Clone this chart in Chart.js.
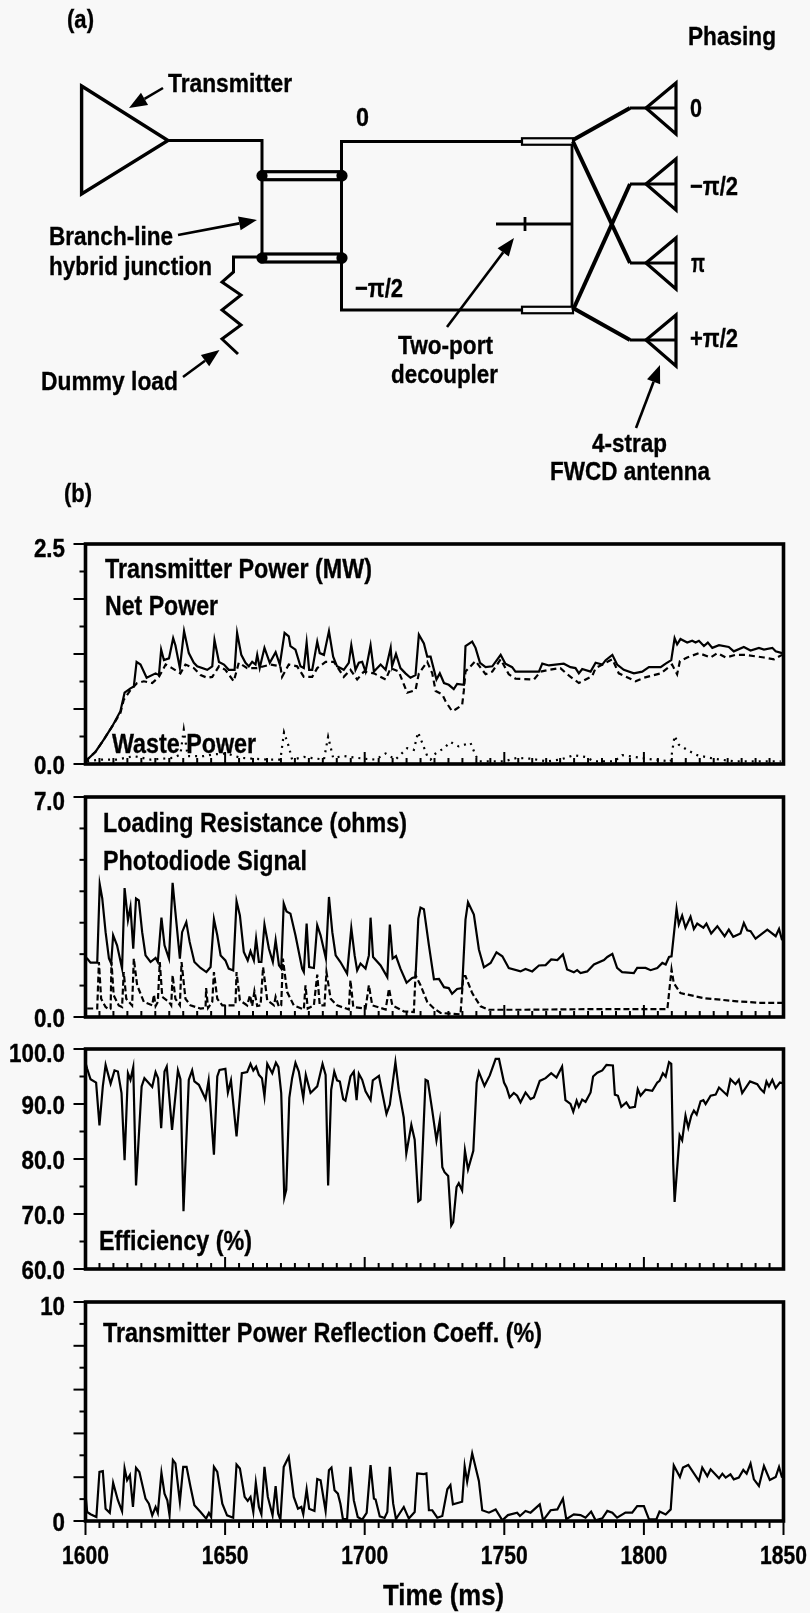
<!DOCTYPE html>
<html>
<head>
<meta charset="utf-8">
<title>FWCD antenna circuit and transmitter traces</title>
<script src="https://cdn.jsdelivr.net/npm/chart.js@4"></script>
<style>
  html, body { margin: 0; padding: 0; background: #f8f8f8; }
  #page { position: relative; width: 810px; height: 1613px; overflow: hidden; }
  canvas { position: absolute; left: 0; }
  svg { position: absolute; left: 0; top: 0; pointer-events: none; }
  svg text { font-family: "Liberation Sans", sans-serif; font-weight: bold; fill: #000; stroke: #000; stroke-width: 0.35; }
</style>
</head>
<body>
<div id="page">
  <canvas id="panelPower"></canvas>
  <canvas id="panelLoading"></canvas>
  <canvas id="panelEfficiency"></canvas>
  <canvas id="panelReflection"></canvas>
  <svg id="overlay" width="810" height="1613"></svg>
</div>
<script>
/* ================= DATA ================= */
const powerTimes = [1600,1600.6,1603.6,1606.6,1609.6,1612.5,1614,1616.1,1617.3,1618.3,1619.7,1621.9,1625.1,1626.3,1627.1,1628.1,1629.9,1631.4,1632.2,1633.8,1635.3,1637,1638.8,1640,1643.6,1645.4,1646.2,1647.8,1649.6,1651.3,1653.4,1654.3,1655.8,1657.3,1658.5,1659.7,1660.9,1661.5,1662.4,1664.1,1666,1668.1,1669.6,1671.3,1672.8,1673.4,1675.2,1677,1678.2,1679.2,1680.1,1681.2,1683,1683.9,1685.4,1687.2,1688.7,1690.1,1692.5,1694.3,1695.2,1696.7,1697.9,1699.1,1700.3,1702.1,1703.3,1705.7,1707.5,1709.3,1709.8,1711.2,1712.8,1714.6,1716.4,1718.2,1719.4,1721.2,1722.4,1723.6,1725.7,1726.9,1728.4,1730.1,1731.9,1733.1,1735.5,1736.1,1738.5,1739.7,1741.3,1743.3,1745.7,1748.7,1750.4,1752.8,1754,1762.4,1763.6,1766,1771.3,1773.7,1775.5,1776.7,1777.9,1780.9,1782.7,1785.1,1786.3,1788.7,1790.4,1792.8,1796.4,1799.4,1801.8,1806,1807.8,1809.8,1811,1811.9,1813.1,1815.5,1817.3,1818.5,1819.7,1821.5,1822.9,1824.5,1826.9,1830.4,1832.2,1835.8,1838.2,1841.2,1843,1846,1847.2,1849.5];
const powerValues = [0.02,0.05,0.14,0.28,0.43,0.60,0.81,0.86,0.88,1.16,1.13,0.98,1.03,1.01,1.30,1.18,1.20,1.43,1.35,1.09,1.51,1.26,1.15,1.11,1.07,1.11,1.41,1.16,1.13,1.07,1.07,1.49,1.24,1.15,1.11,1.16,1.13,1.24,1.09,1.32,1.15,1.27,1.13,1.49,1.45,1.34,1.30,1.11,1.09,1.38,1.07,1.07,1.39,1.26,1.24,1.51,1.22,1.11,1.07,1.15,1.35,1.07,1.15,1.16,1.05,1.35,1.05,1.13,1.07,1.32,1.11,1.25,1.09,1.03,0.98,1.01,1.47,1.37,1.22,1.22,0.96,1.03,0.92,0.90,0.85,0.91,0.90,1.34,1.39,1.32,1.15,1.10,1.11,1.24,1.14,1.10,1.05,1.05,1.14,1.12,1.14,1.10,1.09,1.03,1.08,1.05,1.15,1.13,1.18,1.24,1.13,1.07,1.03,1.05,1.10,1.10,1.14,1.18,1.43,1.36,1.42,1.38,1.40,1.38,1.40,1.34,1.38,1.32,1.35,1.33,1.28,1.33,1.29,1.32,1.30,1.32,1.28,1.26];

const netTimes = [1600,1600.6,1603.6,1606.6,1609.6,1612.5,1613.7,1616.1,1618.5,1620.9,1623.9,1626.3,1628.7,1631,1634,1635.8,1638.8,1641.2,1643.6,1645.4,1647.8,1650.1,1653.1,1654.9,1657.9,1661.5,1666.3,1669.8,1670.4,1672.8,1675.8,1678.2,1681.2,1683,1686,1689,1692.5,1694.9,1697.3,1699.7,1703.3,1707.5,1709.3,1712.2,1715.2,1718.2,1719.4,1722.4,1724.2,1725.4,1727.8,1729,1731.3,1732.5,1734.9,1735.5,1736.1,1739.7,1743.3,1745.7,1748.7,1751.6,1754,1760.6,1763,1766,1770.1,1772.5,1776.7,1781.5,1782.7,1788.7,1791,1797,1800,1806,1810.1,1811.9,1812.9,1815.5,1819.7,1823.9,1826.3,1829.3,1832.8,1836.4,1843,1846.6,1849.5];
const netValues = [0.02,0.05,0.14,0.28,0.43,0.58,0.73,0.84,0.92,0.94,0.92,0.99,1.13,1.09,1.03,1.13,1.09,1.01,0.98,0.99,1.11,1.07,0.94,1.15,1.09,1.09,1.13,1.11,0.99,1.13,1.11,0.99,0.99,1.09,1.16,1.16,0.99,1.07,0.96,1.05,1.03,0.96,1.09,1.05,0.81,0.84,1.03,1.16,1.03,0.83,0.79,0.71,0.60,0.62,0.67,0.83,1.05,1.17,1.02,1.05,1.19,1.02,0.97,0.96,1.05,1.07,1.09,1.02,0.92,1.00,1.09,1.19,1.03,0.94,0.98,1.03,1.13,1.02,1.17,1.21,1.26,1.21,1.26,1.21,1.24,1.24,1.21,1.19,1.24];

const wasteTimes = [1600.6,1605.4,1611.4,1617.3,1623.3,1631.6,1634,1635.2,1636.6,1642.4,1646,1650.7,1655.5,1665.1,1669.8,1671.1,1672.8,1674,1678.2,1685.4,1686.9,1688.7,1692.5,1699.7,1703.9,1707.5,1711,1715.2,1717.6,1719.1,1720.6,1722.4,1723.6,1725.4,1728.4,1730.7,1733.7,1737.9,1739.7,1740.9,1745.1,1749.9,1754.6,1759.4,1765.4,1770.1,1774.9,1779.1,1782.1,1789.3,1792.2,1798.8,1803.6,1809.6,1811,1812.5,1815.5,1819.1,1825.1,1832.2,1849];
const wasteValues = [0.03,0.05,0.05,0.09,0.05,0.07,0.11,0.39,0.09,0.09,0.11,0.12,0.07,0.05,0.05,0.36,0.20,0.05,0.08,0.05,0.31,0.07,0.09,0.06,0.05,0.12,0.05,0.18,0.16,0.36,0.24,0.09,0.05,0.12,0.18,0.25,0.20,0.24,0.10,0.03,0.03,0.03,0.07,0.06,0.03,0.05,0.10,0.08,0.03,0.03,0.10,0.07,0.05,0.03,0.32,0.22,0.16,0.10,0.06,0.03,0.03];

const loadingTimes = [1600,1600.6,1601.8,1604.2,1605.1,1606,1607.2,1608.4,1609.2,1609.9,1611.3,1613.1,1614,1615.2,1616.1,1617.1,1618.1,1619.1,1620.3,1621.5,1623.3,1625.1,1625.9,1627.2,1628.3,1629.9,1631.2,1632.2,1633.8,1634.6,1636.1,1637.3,1639,1641.2,1643.3,1644.8,1646,1647.2,1648.4,1650.1,1651.3,1652.9,1654.1,1655.3,1656.7,1658.1,1659.1,1660.3,1661.1,1662.1,1663,1664.1,1665.7,1667.1,1668.1,1669.3,1670.1,1671,1672,1673.4,1675.2,1677.6,1678.2,1679.2,1680.1,1681.8,1683,1684.2,1686.1,1687.2,1688.4,1689.6,1691.3,1693.7,1695.2,1696.4,1697.3,1698.5,1700.3,1701.5,1702.1,1703,1705.7,1708.1,1709,1710,1711.2,1712.8,1715,1717,1718.2,1719.2,1720,1721.2,1723,1724.8,1726.6,1728.4,1730.1,1731.3,1733.1,1734.9,1736.1,1737,1739.1,1740.9,1742.7,1745.1,1747.2,1749.3,1751.6,1755.8,1757.6,1760,1762.4,1764.8,1766.8,1769,1771,1772.5,1774.9,1776.1,1777.3,1779.7,1782.1,1785.7,1786.9,1788.7,1790.4,1792.2,1796.4,1797.6,1800.6,1802.4,1804.8,1806.6,1807.8,1809,1809.9,1811.7,1812.5,1813.7,1814.9,1816.7,1817.9,1819.1,1821.3,1822.4,1824.1,1826.3,1828.9,1830.4,1832,1834.6,1835.8,1837,1838.2,1840,1844.2,1847.2,1848.4,1849.5];
const loadingValues = [1.9,1.86,1.73,1.73,4.22,3.77,2.70,1.86,1.70,2.60,2.28,1.54,4.10,3.08,3.50,2.17,3.77,3.71,2.70,1.96,1.75,1.88,1.75,3.16,2.28,1.86,4.27,3.34,1.86,2.70,3.02,2.39,1.75,1.56,1.43,1.59,3.11,2.60,1.96,1.80,1.54,1.48,3.68,3.23,2.07,1.80,2.09,1.80,2.49,1.75,1.75,2.94,2.17,1.75,2.44,1.64,1.54,3.61,3.36,3.29,2.60,1.54,1.43,2.97,1.59,1.56,2.92,2.60,1.86,3.82,2.70,1.96,1.75,1.38,2.83,1.96,1.48,1.70,1.54,1.96,3.16,1.91,1.64,1.27,2.94,1.86,1.94,1.54,1.09,1.24,1.27,3.13,3.48,3.43,2.28,1.20,1.21,0.95,0.92,0.74,0.89,0.92,3.10,3.65,3.26,2.15,1.58,1.72,2.06,1.93,1.56,1.45,1.53,1.45,1.64,1.65,1.83,1.81,1.99,1.51,1.42,1.49,1.40,1.45,1.67,1.81,1.91,2.01,1.56,1.43,1.40,1.56,1.56,1.49,1.56,1.72,1.67,1.91,1.93,3.44,2.94,3.23,2.84,3.19,2.80,2.97,2.84,2.97,2.66,2.89,2.57,2.78,2.55,2.66,2.99,2.76,2.73,2.49,2.78,2.57,2.80,2.44];

const photoTimes = [1600.6,1604.2,1604.8,1605.6,1607.2,1608.4,1609,1609.3,1610.1,1611.9,1613.1,1613.7,1614.6,1616.7,1617.3,1618.5,1620.9,1623.9,1624.5,1625.1,1625.9,1626.6,1627.5,1629.9,1630.7,1631.2,1632.2,1633.8,1634.4,1635.8,1637.6,1641.2,1643,1643.2,1643.9,1645.4,1646,1647.2,1649,1653.7,1654.1,1655.3,1657.9,1658.9,1659.7,1660.5,1661.5,1662.7,1663.6,1665.1,1667.5,1668.1,1669.3,1670.1,1670.7,1672.2,1674.6,1678.2,1678.8,1679.6,1681.8,1683,1683.9,1685.6,1686.3,1687.8,1690.1,1694.3,1694.9,1695.9,1700.3,1701.5,1702.7,1707.5,1708.7,1709.9,1714,1717.6,1718.2,1720,1722.4,1724.8,1727.2,1734.3,1735.3,1736.1,1738.5,1741.5,1744.5,1755.8,1779.7,1808.4,1809.9,1810.7,1813.1,1821.5,1833.4,1841.8,1849.5];
const photoValues = [0.27,0.27,1.75,0.58,0.32,0.24,0.27,1.75,0.69,0.37,0.32,1.43,0.58,0.37,1.86,1.01,0.48,0.37,0.71,0.35,0.48,1.75,0.64,0.48,0.37,1.33,0.58,0.37,1.75,0.58,0.37,0.27,0.29,0.92,0.29,0.48,1.43,0.58,0.37,0.37,1.43,0.53,0.37,0.69,0.35,0.82,0.35,0.37,1.59,0.53,0.37,0.64,0.32,0.37,1.86,0.80,0.37,0.24,1.01,0.27,0.37,1.35,0.37,0.37,1.43,0.58,0.37,0.24,1.17,0.32,0.27,1.01,0.37,0.24,0.90,0.37,0.18,0.16,1.33,1.01,0.48,0.27,0.13,0.08,1.30,1.30,0.76,0.34,0.23,0.23,0.25,0.25,1.51,1.08,0.76,0.60,0.50,0.45,0.45];

const efficiencyTimes = [1600,1600.6,1601.8,1603.8,1605,1606.2,1607.2,1609,1610.4,1611.6,1612.9,1614,1615.2,1616.1,1617.1,1618.1,1620.1,1621.1,1623.9,1625.1,1626,1627.1,1628.3,1629.1,1631,1633.1,1634,1635.1,1637,1638.2,1639,1640.6,1643,1644.1,1646,1647.2,1648,1650.1,1651,1652.1,1654.1,1656,1657.9,1659.1,1660.1,1661.1,1662.1,1663.2,1664.1,1665.1,1666.9,1668.2,1669.1,1670.1,1671.2,1671.9,1673,1674,1675.2,1676.4,1678,1678.9,1680.6,1683,1684.9,1686,1686.9,1688,1689.1,1690.1,1691.1,1692.3,1693.1,1694.9,1696.1,1697.1,1697.9,1699.1,1700.3,1702.1,1702.9,1705.1,1707.8,1709,1711,1712.2,1714,1714.9,1716.7,1717.9,1719.2,1720,1721.8,1722.6,1724.2,1725.7,1726.9,1727.8,1728.6,1729.9,1731,1731.7,1732.9,1733.7,1734.9,1735.9,1737,1738.9,1740.1,1740.9,1742.9,1744.8,1746.9,1748.1,1749.9,1750.8,1751.9,1753.4,1754.6,1755.8,1757.6,1759.4,1760.6,1762.7,1764.8,1766.8,1768.7,1770.7,1771.9,1773.7,1774.7,1775.9,1776.7,1777.9,1779.1,1780.9,1781.8,1783.3,1785.1,1786.6,1788.9,1789.6,1790.7,1791.9,1793.7,1794.9,1796.8,1797.8,1798.8,1800.6,1803,1804.8,1805.6,1806.8,1807.8,1809,1809.8,1810.5,1811,1812.8,1813.7,1814.9,1815.9,1817,1817.9,1818.9,1820.3,1821.3,1822.1,1823.9,1825.7,1826.9,1829.8,1831,1832.8,1834,1835.2,1838,1840.6,1841.8,1843,1843.9,1844.8,1846,1847.2,1848.7,1849.5];
const efficiencyValues = [97.5,96.4,94.5,93.9,86.1,93.2,97.1,93.7,96.1,95.9,92,79.8,95.6,94.4,96.7,75.2,93.2,94.7,93.1,95.8,94.7,85.6,95.9,96.8,85.3,96.1,94.5,70.5,94.4,96.1,94.1,93.5,90.9,94.3,80.8,95,96.2,96.4,92.1,94.3,84.1,95.6,95.8,97.3,96.1,96.8,95.3,94.7,91.4,97.3,95.6,97.5,96.7,92,73,74.4,91.1,94.7,97.5,95.9,91.1,95.3,92,93.2,97.3,95.3,75.2,92.6,95.9,94.3,94.1,90.9,90.6,95,95.9,90.7,95.5,94.4,92.3,90.7,94.3,95.1,88.2,89.9,97.6,92.6,87.5,81,86.2,83.5,72.3,72.6,94.4,94.2,88.8,83.4,87,78.5,77.6,76.9,67.9,68.5,74.9,75.6,74.3,81.5,78.1,81.5,93.9,95.8,93.3,95.2,98.2,98.2,93.9,93,91.2,92,91.5,90.3,92.1,90.9,91.2,94.2,94.7,95.6,94.8,96.8,90.7,90,88.6,90.6,89.5,90.8,90.4,92.1,95,95.7,96.1,97.1,97,91.7,91.5,89.5,90.3,89.3,89.5,92.7,91.5,92.6,92.4,93.9,94.2,95.6,95,97.6,97.3,79.1,72.2,84.3,83.4,87.9,85.7,87.9,88.8,88.1,90.5,90.7,90,91.5,91.7,93,91.6,94.5,93.6,94.4,92,94.1,93.6,92.7,92.1,94.1,93.2,94.4,92.9,93.9,93.8];

const reflectionTimes = [1600,1600.6,1601.8,1603.9,1605,1606.2,1607.2,1608.7,1609.9,1611.6,1613.1,1614,1614.9,1615.9,1617,1618.1,1619.3,1621.5,1622.7,1623.9,1625.1,1625.9,1627.2,1628.3,1629.3,1630.1,1631.3,1632.2,1633.8,1635,1636.2,1637.6,1639,1641.2,1643.2,1644.2,1645,1646,1647.2,1649,1650.7,1652.9,1654.1,1655.3,1657,1658.1,1659.1,1660.1,1661,1662.1,1663,1664.1,1665.3,1667,1668.1,1669,1669.8,1671,1672.8,1674.6,1676.1,1677.3,1678,1679.2,1680.1,1682,1683,1684.2,1686,1687.2,1688.1,1689.2,1690.4,1691.3,1692.2,1693.7,1694.9,1696.1,1697.5,1699.1,1700.7,1702.1,1703.3,1703.9,1705.4,1707.1,1708.1,1709,1710.2,1711.2,1714,1715.8,1717.9,1718.8,1721.2,1722.1,1723,1724.2,1726,1727.8,1729.6,1730.7,1731.6,1734.9,1735.8,1736.7,1738.5,1740.9,1742.1,1744.5,1746.9,1749.3,1751.3,1754.6,1755.6,1757.6,1759.4,1762.7,1763.9,1766.6,1769,1771,1772.2,1774.9,1777.3,1779.1,1781.1,1782.7,1785.1,1786.9,1788.7,1790.4,1793.4,1795.8,1797.6,1800,1801.8,1804.5,1805.6,1807.8,1809.6,1810.7,1812.9,1814,1815.9,1819.7,1820.9,1822.7,1823.9,1826.9,1828.1,1829.3,1831,1832.2,1834,1835.6,1836.8,1838.2,1839.4,1841.2,1843,1845.1,1847.2,1848.4,1849.5];
const reflectionValues = [1.2,0.41,0.31,0.18,2.24,2.28,0.56,0.37,1.74,0.95,0.44,2.40,1.86,2.09,0.64,2.43,2.24,1.02,0.79,0.26,0.64,0.37,2.20,1.25,0.95,0.26,2.78,2.63,0.87,2.47,2.47,1.56,0.72,0.41,0.11,0.37,0.18,2.47,2.24,0.79,0.26,0.15,2.58,2.40,1.10,0.92,1.10,0.41,1.74,0.64,0.31,2.47,1.10,0.26,1.59,0.34,0.06,2.47,2.93,1.10,0.56,0.64,0.31,1.44,0.56,0.46,1.92,1.86,0.46,2.32,2.44,1.40,1.25,0.79,0.09,0.09,2.47,0.95,0.18,0.06,0.37,2.55,1.02,0.98,0.21,0.14,0.41,2.47,0.79,0.09,0.64,0.11,0.41,2.17,2.14,2.17,0.49,0.49,0.15,0.23,1.45,1.64,0.76,0.88,2.51,1.80,3.09,1.83,0.49,0.38,0.53,0.03,0.27,0.38,0.23,0.46,0.38,0.76,0.03,0.49,0.53,1.02,0.08,0.30,0.27,0.15,0.43,0.03,0.12,0.46,0.38,0.15,0.38,0.38,0.68,0.68,0.08,0.08,0.43,0.30,0.53,2.54,2.01,2.44,2.56,1.83,2.44,2.05,2.36,1.95,2.16,1.98,2.13,1.90,1.98,2.33,2.16,2.62,1.90,1.60,2.51,1.87,2.01,2.47,1.98];

/* ================= HELPERS ================= */
const pairs = (times, values) => times.map((t, i) => ({ x: t, y: values[i] }));
const isMultiple = (v, step) => Math.abs(v / step - Math.round(v / step)) < 1e-6;

const LABEL_FONT = "bold 26px 'Liberation Sans', sans-serif";
const LEFT_EDGE = 85.5;
const RIGHT_GAP = 26.5;

/* squeezed bold text, the reference uses a condensed face */
function drawLabel(ctx, text, x, y, squeeze, align) {
  ctx.save();
  ctx.translate(x, y);
  ctx.scale(squeeze, 1);
  ctx.font = LABEL_FONT;
  ctx.fillStyle = "#000";
  ctx.textAlign = align;
  ctx.textBaseline = "alphabetic";
  ctx.fillText(text, 0, 0);
  ctx.strokeStyle = "#000";
  ctx.lineWidth = 0.4;
  ctx.strokeText(text, 0, 0);
  ctx.restore();
}

const framePlugin = {
  id: "frame",
  afterDatasetsDraw(chart, args, opts) {
    const { ctx, chartArea: a, scales } = chart;
    ctx.save();
    ctx.strokeStyle = "#000";
    ctx.lineCap = "butt";

    ctx.lineWidth = 2;
    scales.x.ticks.forEach(t => {
      const major = isMultiple(t.value, 50);
      const px = scales.x.getPixelForValue(t.value);
      ctx.beginPath();
      ctx.moveTo(px, a.bottom);
      if (opts.ticksOutside) ctx.lineTo(px, a.bottom + (major ? 14 : 7));
      else ctx.lineTo(px, a.bottom - (major ? 12 : 6));
      ctx.stroke();
      if (opts.ticksOutside && t.label) drawLabel(ctx, t.label, px, a.bottom + 43, 0.81, "center");
    });
    scales.y.ticks.forEach(t => {
      const major = opts.longTicks(t.value);
      const py = scales.y.getPixelForValue(t.value);
      ctx.beginPath();
      ctx.moveTo(a.left, py);
      ctx.lineTo(a.left - (major ? 12 : 6), py);
      ctx.stroke();
      if (t.label) drawLabel(ctx, t.label, a.left - 20.5, py + 9.5 + (t.value === scales.y.max ? 3 : 0), 0.86, "right");
    });

    ctx.lineWidth = 3.6;
    ctx.strokeRect(a.left, a.top, a.right - a.left, a.bottom - a.top);
    ctx.restore();
  }
};

function makePanel(id, top, bottom, cfg) {
  const below = cfg.ticksOutside ? 72 : 20;
  const canvas = document.getElementById(id);
  canvas.width = 810;
  canvas.height = bottom - top + 20 + below;
  canvas.style.top = (top - 20) + "px";

  return new Chart(canvas, {
    type: "line",
    data: { datasets: cfg.datasets },
    options: {
      responsive: false,
      animation: false,
      layout: { padding: { top: 20, right: RIGHT_GAP, bottom: below, left: 0 } },
      elements: { point: { radius: 0 }, line: { tension: 0, borderColor: "#000", borderWidth: 2.2 } },
      plugins: { legend: { display: false }, tooltip: { enabled: false }, frame: cfg },
      scales: {
        x: {
          type: "linear",
          min: 1600,
          max: 1850,
          grid: { display: false, drawTicks: false },
          border: { display: false },
          ticks: {
            stepSize: 5,
            autoSkip: false,
            maxRotation: 0,
            display: false,
            callback: v => isMultiple(v, 50) ? String(v) : ""
          },
          afterFit: s => { s.height = 0; s.paddingLeft = 0; s.paddingRight = 0; }
        },
        y: {
          min: cfg.yMin,
          max: cfg.yMax,
          grid: { display: false, drawTicks: false },
          border: { display: false },
          ticks: {
            stepSize: cfg.yStep,
            autoSkip: false,
            display: false,
            callback: v => cfg.yLabels(v)
          },
          afterFit: s => { s.width = LEFT_EDGE; s.paddingTop = 0; s.paddingBottom = 0; }
        }
      }
    },
    plugins: [framePlugin]
  });
}

/* ================= PANELS ================= */
makePanel("panelPower", 544, 764, {
  yMin: 0, yMax: 2.5, yStep: 0.3125,
  longTicks: v => isMultiple(v, 0.625),
  yLabels: v => (v === 0 || v === 2.5) ? v.toFixed(1) : "",
  datasets: [
    { data: pairs(powerTimes, powerValues) },
    { data: pairs(netTimes, netValues), borderDash: [6, 4] },
    { data: pairs(wasteTimes, wasteValues), borderDash: [2, 5] }
  ]
});

makePanel("panelLoading", 797, 1017, {
  yMin: 0, yMax: 7, yStep: 1,
  longTicks: v => v === 0 || v === 7,
  yLabels: v => (v === 0 || v === 7) ? v.toFixed(1) : "",
  datasets: [
    { data: pairs(loadingTimes, loadingValues) },
    { data: pairs(photoTimes, photoValues), borderDash: [6, 3] }
  ]
});

makePanel("panelEfficiency", 1049, 1269, {
  yMin: 60, yMax: 100, yStep: 5,
  longTicks: v => isMultiple(v, 10),
  yLabels: v => isMultiple(v, 10) ? v.toFixed(1) : "",
  datasets: [{ data: pairs(efficiencyTimes, efficiencyValues) }]
});

makePanel("panelReflection", 1302, 1521, {
  yMin: 0, yMax: 10, yStep: 1, ticksOutside: true,
  longTicks: v => isMultiple(v, 2),
  yLabels: v => (v === 0 || v === 10) ? String(v) : "",
  datasets: [{ data: pairs(reflectionTimes, reflectionValues) }]
});

/* ================= SCHEMATIC AND LABELS ================= */
const svg = document.getElementById("overlay");
const NS = "http://www.w3.org/2000/svg";

function add(tag, attrs, text) {
  const el = document.createElementNS(NS, tag);
  Object.keys(attrs).forEach(k => el.setAttribute(k, attrs[k]));
  if (text) el.textContent = text;
  svg.appendChild(el);
  return el;
}

function wire(points, width) {
  add("polyline", { points: points, fill: "none", stroke: "#000", "stroke-width": width || 3, "stroke-linejoin": "miter" });
}

function arrow(x1, y1, x2, y2) {
  const ang = Math.atan2(y2 - y1, x2 - x1);
  const len = 18, half = 7;
  const bx = x2 - len * Math.cos(ang), by = y2 - len * Math.sin(ang);
  wire(`${x1},${y1} ${bx},${by}`, 2.6);
  const lx = bx + half * Math.sin(ang), ly = by - half * Math.cos(ang);
  const rx = bx - half * Math.sin(ang), ry = by + half * Math.cos(ang);
  add("polygon", { points: `${x2},${y2} ${lx},${ly} ${rx},${ry}`, fill: "#000" });
}

function antenna(y) {
  wire(`630,${y} 676,${y}`, 3);
  add("polygon", { points: `646,${y} 676,${y - 25} 676,${y + 26}`, fill: "none", stroke: "#000", "stroke-width": 3.2 });
}

function strip(x1, x2, y, height, weight) {
  add("rect", { x: x1, y: y - height / 2, width: x2 - x1, height: height, fill: "#f8f8f8", stroke: "#000", "stroke-width": weight });
}

/* transmitter and lines */
add("polygon", { points: "81.6,86 168,140.5 81.6,194", fill: "none", stroke: "#000", "stroke-width": 3.4 });
wire("168,140.5 262,140.5 262,258");
wire("522,141.5 341.5,141.5 341.5,310 522,310");
wire("572,141 572,310", 2.8);
wire("496,224 572,224", 2.8);
wire("525,217 525,231", 2.8);

/* hybrid junction */
strip(262, 342, 175.7, 8, 3.2);
strip(262, 342, 258, 8, 3.2);
[[262, 175.7], [342, 175.7], [262, 258], [342, 258]].forEach(p => add("circle", { cx: p[0], cy: p[1], r: 5.6, fill: "#000" }));

/* dummy load */
wire("258,257 233.5,257 233.5,272 222,282 241,295 222,310 241,325 222,339 238,354", 3);

/* outputs to antenna */
strip(522, 573, 141.5, 6.5, 2.2);
strip(522, 573, 310, 6.5, 2.2);
wire("573,140 630,108", 4);
wire("573,141.5 630,263", 4);
wire("573,310 630,184", 4);
wire("573,308 630,340", 4);
antenna(108);
antenna(184);
antenna(263);
antenna(340);

/* arrows */
arrow(163, 88, 129, 108);
arrow(178, 235, 257, 220);
arrow(447, 327, 514, 238);
arrow(183, 377, 219.5, 350);
arrow(636, 428, 660, 365);

/* x, baseline, width, text, size */
const labels = [
  [67, 28, 27, "(a)", 26],
  [688, 45, 88, "Phasing", 26],
  [168, 92, 124, "Transmitter", 26],
  [356, 126, 13, "0", 26],
  [690, 117, 12, "0", 26],
  [690, 195, 48, "\u2212\u03c0/2", 26],
  [691, 272, 14, "\u03c0", 26],
  [690, 347, 48, "+\u03c0/2", 26],
  [355, 297, 48, "\u2212\u03c0/2", 26],
  [49, 245, 124, "Branch-line", 26],
  [49, 275, 163, "hybrid junction", 26],
  [41, 390, 137, "Dummy load", 26],
  [398, 354, 95, "Two-port", 26],
  [391, 383, 107, "decoupler", 26],
  [592, 452, 75, "4-strap", 26],
  [550, 480, 160, "FWCD antenna", 26],
  [64, 502, 28, "(b)", 26],
  [105, 578, 267, "Transmitter Power (MW)", 27],
  [105, 615, 113, "Net Power", 27],
  [112, 753, 144, "Waste Power", 27],
  [103, 832, 304, "Loading Resistance (ohms)", 27],
  [103, 870, 204, "Photodiode Signal", 27],
  [99, 1250, 153, "Efficiency (%)", 27],
  [103, 1342, 439, "Transmitter Power Reflection Coeff. (%)", 27],
  [383, 1605, 121, "Time (ms)", 30]
];
labels.forEach(l => add("text", { x: l[0], y: l[1], textLength: l[2], lengthAdjust: "spacingAndGlyphs", "font-size": l[4] }, l[3]));
</script>
</body>
</html>
